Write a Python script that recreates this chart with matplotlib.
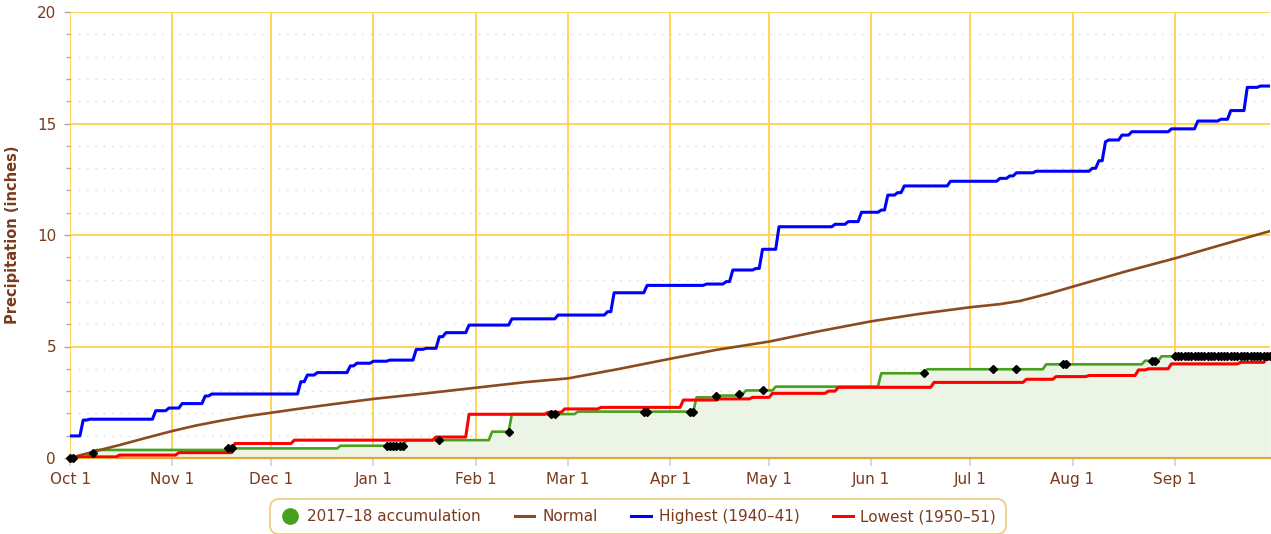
import numpy as np
import matplotlib
matplotlib.use("Agg")
import matplotlib.pyplot as plt
from matplotlib.lines import Line2D
from matplotlib.ticker import MultipleLocator

# ---------------- data ----------------
month_labels = ['Oct 1', 'Nov 1', 'Dec 1', 'Jan 1', 'Feb 1', 'Mar 1',
                'Apr 1', 'May 1', 'Jun 1', 'Jul 1', 'Aug 1', 'Sep 1']
month_days = [0, 31, 61, 92, 123, 151, 182, 212, 243, 273, 304, 335]
last_day = 364

# 2017-18 accumulation (step changes: day, value after change)
acc_days = [0, 6, 8, 48, 82, 102, 128, 134, 154, 190, 196, 203, 205, 214,
            246, 260, 296, 326, 331, 364]
acc_vals = [0.0, 0.21, 0.36, 0.43, 0.55, 0.80, 1.18, 1.97, 2.08, 2.72, 2.80,
            2.87, 3.03, 3.20, 3.80, 3.98, 4.20, 4.36, 4.56, 4.56]

# days with black markers on the accumulation line
marker_days = [0, 1, 7, 48, 49, 96, 97, 98, 99, 100, 101, 112, 133, 146, 147,
               174, 175, 188, 189, 196, 203, 210, 259, 280, 287, 301, 302,
               328, 329] + list(range(335, 365))

# Normal
normal_days = [0, 8, 15, 23, 31, 38, 46, 53, 61, 70, 78, 92, 108, 123, 138,
               151, 166, 182, 196, 212, 227, 243, 257, 273, 282, 288, 297,
               304, 320, 335, 349, 364]
normal_vals = [0.0, 0.32, 0.58, 0.90, 1.21, 1.45, 1.68, 1.86, 2.03, 2.22,
               2.38, 2.65, 2.90, 3.15, 3.40, 3.57, 3.98, 4.45, 4.85, 5.22,
               5.68, 6.13, 6.45, 6.76, 6.90, 7.04, 7.38, 7.68, 8.36, 8.95,
               9.55, 10.18]

# Highest (1940-41)
high_days = [0, 4, 6, 26, 30, 34, 41, 43, 70, 72, 75, 85, 87, 92, 97, 105,
             108, 112, 114, 121, 134, 148, 163, 165, 175, 193, 199, 201, 208,
             210, 215, 232, 236, 240, 246, 248, 251, 253, 267, 282, 285, 287,
             293, 310, 312, 314, 315, 319, 322, 334, 342, 349, 352, 357, 361,
             364]
high_vals = [0.99, 1.70, 1.74, 2.12, 2.24, 2.44, 2.78, 2.87, 3.42, 3.72,
             3.83, 4.13, 4.25, 4.34, 4.39, 4.87, 4.92, 5.44, 5.62, 5.96, 6.24,
             6.41, 6.56, 7.41, 7.74, 7.80, 7.91, 8.43, 8.50, 9.36, 10.37,
             10.48, 10.60, 11.02, 11.12, 11.79, 11.90, 12.20, 12.41, 12.54,
             12.65, 12.79, 12.86, 12.99, 13.33, 14.18, 14.26, 14.48, 14.63,
             14.76, 15.11, 15.19, 15.58, 16.62, 16.68, 16.68]

# Lowest (1950-51)
low_days = [0, 15, 33, 50, 68, 111, 121, 145, 150, 161, 186, 197, 207, 213,
            230, 233, 262, 290, 299, 309, 324, 327, 334, 355, 363, 364]
low_vals = [0.05, 0.13, 0.24, 0.65, 0.80, 0.94, 1.96, 2.05, 2.20, 2.27, 2.60,
            2.65, 2.72, 2.90, 3.00, 3.17, 3.39, 3.53, 3.65, 3.70, 3.95, 4.00,
            4.22, 4.29, 4.47, 4.47]


def daily_path(days, vals):
    """Daily cumulative series: each change is reached over one day."""
    xs, ys = [days[0]], [vals[0]]
    for i in range(1, len(days)):
        if vals[i] != vals[i - 1]:
            xs += [days[i] - 1, days[i]]
            ys += [vals[i - 1], vals[i]]
        else:
            xs.append(days[i])
            ys.append(vals[i])
    return np.array(xs, float), np.array(ys, float)


# ---------------- style ----------------
TXT = '#7a3b1c'
GRID = '#ffd24a'
GREEN = '#46a11e'
FILL = '#ecf4e6'
BROWN = '#8b4a1f'

fig = plt.figure(figsize=(12.71, 5.34), dpi=100)
ax = fig.add_axes([70 / 1271, 1 - 458 / 534, 1 - 70 / 1271 - 0.0005,
                   (458 - 12) / 534])

ax.set_xlim(0, last_day)
ax.set_ylim(0, 20)

ax.set_xticks(month_days)
ax.set_xticklabels(month_labels)
ax.yaxis.set_major_locator(MultipleLocator(5))
ax.yaxis.set_minor_locator(MultipleLocator(1))
ax.grid(which='major', axis='both', color=GRID, lw=1.3, zorder=0)
ax.grid(which='minor', axis='y', color='#d8d8d8', lw=1.0,
        linestyle=(0, (1, 5)), zorder=0)
ax.set_axisbelow(True)

for s in ['top', 'right', 'left']:
    ax.spines[s].set_visible(False)
ax.spines['bottom'].set_color('#e2aa35')
ax.spines['bottom'].set_linewidth(1.6)

ax.tick_params(axis='x', colors='#c8d2ea', length=6, width=1.2,
               labelcolor=TXT, labelsize=11, pad=4)
ax.tick_params(axis='y', which='major', colors='#aaaaaa', length=4,
               width=1, labelcolor=TXT, labelsize=11, pad=6)
ax.tick_params(axis='y', which='minor', colors='#aaaaaa', length=3, width=1)

ax.set_ylabel('Precipitation (inches)', color=TXT, fontsize=10.5,
              fontweight='bold', labelpad=12)

# series
ax_x, ax_y = daily_path(acc_days, acc_vals)
hx, hy = daily_path(high_days, high_vals)
lx, ly = daily_path(low_days, low_vals)

ax.fill_between(ax_x, ax_y, color=FILL, zorder=1, lw=0)
ax.plot(ax_x, ax_y, color=GREEN, lw=1.9, zorder=3)
ax.plot(normal_days, normal_vals, color=BROWN, lw=1.9, zorder=3)
ax.plot(hx, hy, color='#0000ff', lw=2.2, zorder=4)
ax.plot(lx, ly, color='#ff0000', lw=2.2, zorder=4)

acc_d = np.array(acc_days)
acc_v = np.array(acc_vals)
md = np.array(marker_days)
idx = np.searchsorted(acc_d, md, side='right') - 1
mv = acc_v[idx]
ax.plot(md, mv, linestyle='none', marker='D', markersize=4.5, color='black',
        zorder=5, clip_on=False)

# legend
handles = [
    Line2D([], [], linestyle='none', marker='o', markersize=11, color=GREEN),
    Line2D([], [], color=BROWN, lw=2.2),
    Line2D([], [], color='#0000ff', lw=2.2),
    Line2D([], [], color='#ff0000', lw=2.2),
]
labels = ['2017\u201318 accumulation', 'Normal', 'Highest (1940\u201341)',
          'Lowest (1950\u201351)']
leg = fig.legend(handles, labels, loc='center', ncol=4,
                 bbox_to_anchor=(0.502, 0.032), frameon=True, fontsize=11,
                 handlelength=1.3, handletextpad=0.5, columnspacing=2.2,
                 borderpad=0.45, fancybox=True)
for t in leg.get_texts():
    t.set_color(TXT)
fr = leg.get_frame()
fr.set_edgecolor('#e6bd5c')
fr.set_linewidth(1.2)
fr.set_boxstyle('round,pad=0.2,rounding_size=0.6')

fig.savefig('out.png', dpi=100)
